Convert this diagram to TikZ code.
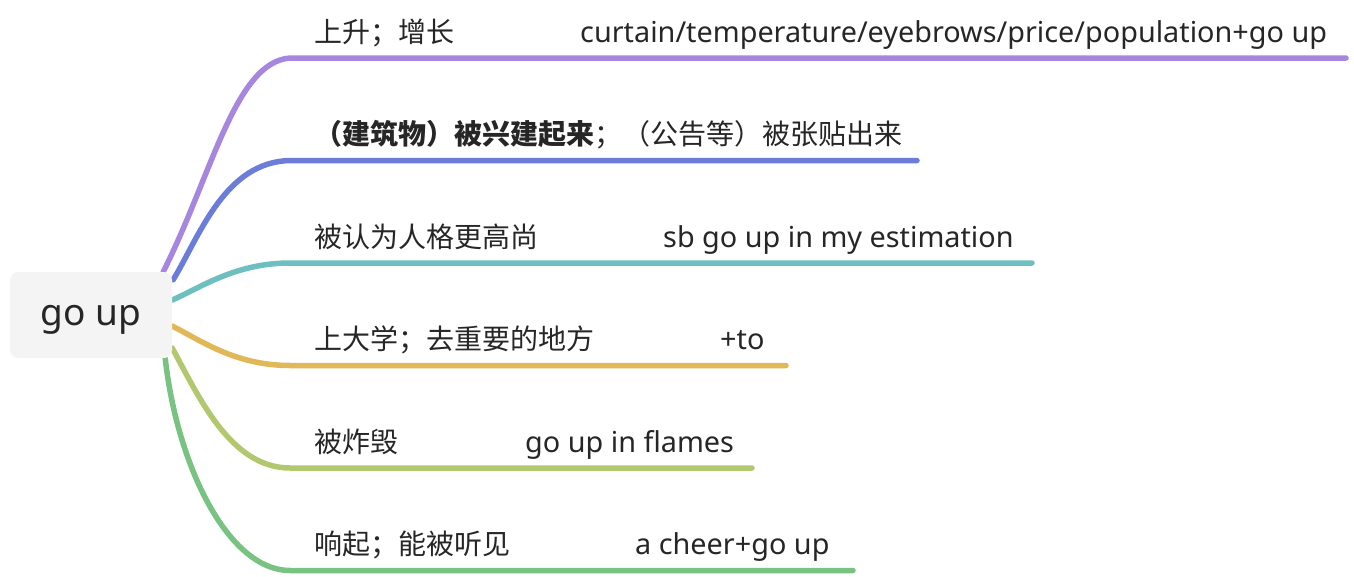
\documentclass[tikz,border=0pt]{standalone}
\usepackage{fontspec}
\setmainfont{Noto Sans}
\newfontfamily\cjk{Noto Sans CJK SC}
\usetikzlibrary{calc,backgrounds}
\definecolor{cpurple}{HTML}{A687DD}
\definecolor{cblue}{HTML}{6B7DD8}
\definecolor{cteal}{HTML}{6EC0C0}
\definecolor{corange}{HTML}{E1B858}
\definecolor{cyg}{HTML}{B2C86E}
\definecolor{cgreen}{HTML}{78C282}
\definecolor{txt}{HTML}{262626}
\definecolor{rootfill}{HTML}{F4F4F4}
\begin{document}
\begin{tikzpicture}[x=1pt,y=-1pt,
  branch/.style={line width=5.5pt, line cap=round},
  lbl/.style={anchor=base west, inner sep=0pt, text=txt, font=\fontsize{28.8}{32}\selectfont},
  zh/.style={lbl, font=\cjk\fontsize{28}{32}\selectfont},
  rootbox/.style={rectangle, rounded corners=8pt, fill=rootfill, minimum width=162pt, minimum height=86pt, inner sep=0pt, text=txt, font=\fontsize{37}{40}\selectfont}]
\useasboundingbox (0,0) rectangle (1354,576);
\node[rootbox] (root) at (91,315) {\raisebox{-10pt}[0pt][0pt]{go up}};

% coordinates
\coordinate (s1) at ($(root.north east)+(-9,0)$);
\coordinate (s2) at ($(root.north east)+(1,8)$);
\coordinate (s3) at ($(root.east)+(0,-15)$);
\coordinate (s4) at ($(root.east)+(0,11)$);
\coordinate (s5) at ($(root.east)+(0,33)$);
\coordinate (s6) at ($(root.south east)+(-7,0)$);
\coordinate (h1) at (290,58);
\coordinate (h2) at (290,160.5);
\coordinate (h3) at (290,263);
\coordinate (h4) at (290,365.5);
\coordinate (h5) at (290,468);
\coordinate (h6) at (290,570.5);
\coordinate (e1) at (1346,58);
\coordinate (e2) at (917,160.5);
\coordinate (e3) at (1032,263);
\coordinate (e4) at (786,365.5);
\coordinate (e5) at (752,468);
\coordinate (e6) at (853,570.5);

\begin{scope}[on background layer]
\draw[branch, cpurple] (s1) .. controls (212,175) and (235,62) .. (h1) -- (e1);
\draw[branch, cblue] (s2) .. controls (200,235) and (225,162) .. (h2) -- (e2);
\draw[branch, cteal] (s3) .. controls (200,288) and (235,263) .. (h3) -- (e3);
\draw[branch, corange] (s4) .. controls (200,340) and (235,365.5) .. (h4) -- (e4);
\draw[branch, cyg] (s5) .. controls (198,395) and (230,468) .. (h5) -- (e5);
\draw[branch, cgreen] (s6) .. controls (177,465) and (228,570.5) .. (h6) -- (e6);
\end{scope}

% labels
\node[zh] (t1a) at (314,42) {上升；增长};
\node[lbl] (t1b) at (580,42) {curtain/temperature/eyebrows/price/population+go up};
\node[zh] (t2a) at (314,144.5) {\textbf{（建筑物）被兴建起来}；（公告等）被张贴出来};
\node[zh] (t3a) at (314,247) {被认为人格更高尚};
\node[lbl] (t3b) at (663,247) {sb go up in my estimation};
\node[zh] (t4a) at (314,349.5) {上大学；去重要的地方};
\node[lbl] (t4b) at (720,349.5) {+to};
\node[zh] (t5a) at (314,452) {被炸毁};
\node[lbl] (t5b) at (525,452) {go up in flames};
\node[zh] (t6a) at (314,554.5) {响起；能被听见};
\node[lbl] (t6b) at (635,554.5) {a cheer+go up};
\end{tikzpicture}
\end{document}
